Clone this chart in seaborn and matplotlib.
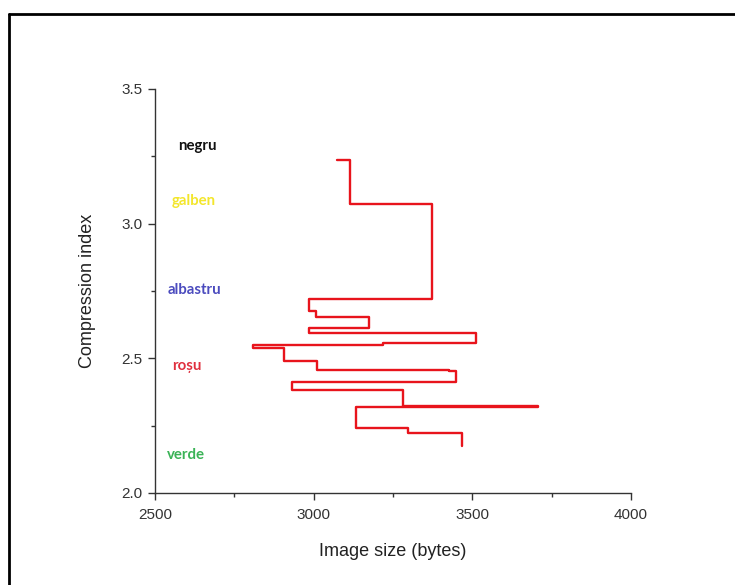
import matplotlib
matplotlib.use("Agg")
import matplotlib.pyplot as plt
from matplotlib.lines import Line2D
from matplotlib.ticker import MultipleLocator
import seaborn as sns
import pandas as pd

# Corner points of the stepped trace (image size in bytes, compression index)
image_size = [3072, 3116, 3374, 2984, 3006, 3173, 2984, 3513, 3217, 2810,
              2905, 3009, 3425, 3450, 2933, 3283, 3708, 3132, 3296, 3469]
compression = [3.237, 3.074, 2.719, 2.674, 2.652, 2.611, 2.593, 2.556, 2.550, 2.537,
               2.489, 2.456, 2.452, 2.411, 2.381, 2.322, 2.319, 2.241, 2.222, 2.174]

# Colour names written inside the plot area
color_names = ["negru", "galben", "albastru", "roșu", "verde"]
name_colors = ["#111111", "#F3E62C", "#4B4BBE", "#E0303F", "#3BB357"]
name_x = [2574, 2552, 2539, 2555, 2539]
name_y = [3.289, 3.086, 2.752, 2.471, 2.141]

x_ticks = [2500, 3000, 3500, 4000]
y_ticks = [2.0, 2.5, 3.0, 3.5]

sns.set_theme(style="ticks")
plt.rcParams["font.family"] = ["Liberation Sans", "DejaVu Sans"]

df = pd.DataFrame({"size": image_size, "ci": compression})

fig = plt.figure(figsize=(7.35, 5.85), dpi=100)
ax = fig.add_axes([155 / 735, 1 - 493 / 585, (631 - 155) / 735, (493 - 89) / 585])

sns.lineplot(data=df, x="size", y="ci", sort=False, estimator=None,
             drawstyle="steps-post", color="#E8141C", linewidth=1.7, ax=ax)

for name, c, xv, yv in zip(color_names, name_colors, name_x, name_y):
    ax.text(xv, yv, name, color=c, fontsize=10.8, fontweight="bold",
            family=["Lato", "DejaVu Sans"], ha="left", va="center")

ax.set_xlim(x_ticks[0], x_ticks[-1])
ax.set_ylim(y_ticks[0], y_ticks[-1])
ax.set_xticks(x_ticks)
ax.set_yticks(y_ticks)
ax.set_xticklabels([str(v) for v in x_ticks])
ax.set_yticklabels([f"{v:.1f}" for v in y_ticks])
ax.xaxis.set_minor_locator(MultipleLocator(250))
ax.yaxis.set_minor_locator(MultipleLocator(0.25))

ax.tick_params(which="major", direction="out", length=5, width=1, colors="#333333",
               labelsize=11, labelcolor="#333333", pad=4)
ax.tick_params(axis="x", which="major", pad=6)
ax.tick_params(which="minor", direction="out", length=3, width=1, colors="#333333")

for side in ("top", "right"):
    ax.spines[side].set_visible(False)
for side in ("left", "bottom"):
    ax.spines[side].set_color("#333333")
    ax.spines[side].set_linewidth(1.0)

ax.set_xlabel("Image size (bytes)", fontsize=13, color="#222222", labelpad=15)
ax.set_ylabel("Compression index", fontsize=13, color="#222222", labelpad=18)

# Frame drawn along the top and left edges of the figure
fig.add_artist(Line2D([9 / 735, 1.0], [1 - 13.5 / 585, 1 - 13.5 / 585],
                      transform=fig.transFigure, color="black", linewidth=2))
fig.add_artist(Line2D([9 / 735, 9 / 735], [0.0, 1 - 13.5 / 585],
                      transform=fig.transFigure, color="black", linewidth=2))

fig.savefig("out.png", dpi=100, facecolor="white")
